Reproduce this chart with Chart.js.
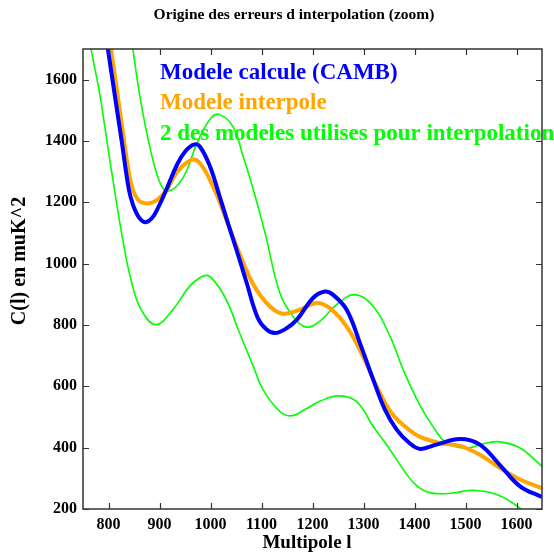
<!DOCTYPE html>
<html>
<head>
<meta charset="utf-8">
<script src="https://cdn.jsdelivr.net/npm/chart.js@4"></script>
<style>
html,body{margin:0;padding:0;background:#fff;}
#c{display:block;}
</style>
</head>
<body>
<canvas id="c" width="554" height="554"></canvas>
<script>
// ---- data ----
const chartTitle = "Origine des erreurs d interpolation (zoom)";
const xTitle = "Multipole l";
const yTitle = "C(l) en muK^2";

const xTickValues = [800, 900, 1000, 1100, 1200, 1300, 1400, 1500, 1600];
const yTickValues = [200, 400, 600, 800, 1000, 1200, 1400, 1600];

const cambLabel = "Modele calcule (CAMB)";
const cambL  = [790, 799, 812, 826, 840, 848, 857, 865, 873, 885, 898, 913, 935, 950, 967, 979, 999, 1018, 1034, 1051, 1071, 1093, 1110, 1126, 1145, 1169, 1201, 1224, 1240, 1267, 1293, 1319, 1342, 1365, 1390, 1411, 1443, 1489, 1528, 1567, 1607, 1650];
const cambCl = [1800, 1698, 1553, 1398, 1241, 1192, 1158, 1141, 1135, 1148, 1185, 1240, 1325, 1365, 1388, 1382, 1317, 1219, 1133, 1045, 937, 822, 785, 774, 785, 817, 888, 909, 899, 850, 741, 622, 524, 459, 415, 396, 410, 428, 410, 344, 274, 239];

const interpLabel = "Modele interpole";
const interpL  = [795, 805, 817, 829, 840, 848, 858, 868, 880, 893, 905, 916, 935, 962, 979, 1005, 1025, 1054, 1084, 1116, 1142, 1175, 1208, 1234, 1267, 1299, 1326, 1355, 1385, 1411, 1450, 1489, 1528, 1567, 1607, 1650];
const interpCl = [1810, 1698, 1560, 1420, 1296, 1240, 1208, 1198, 1197, 1205, 1222, 1245, 1300, 1338, 1328, 1252, 1170, 1045, 932, 861, 837, 850, 872, 855, 795, 698, 600, 513, 464, 435, 415, 406, 377, 334, 296, 268];

const modelsLabel = "2 des modeles utilises pour interpolation";
const modelAL  = [840, 848, 861, 880, 900, 916, 946, 975, 1001, 1018, 1044, 1064, 1084, 1107, 1136, 1162, 1188, 1214, 1247, 1283, 1319, 1352, 1378, 1411, 1437, 1463, 1502, 1541, 1567, 1607, 1650];
const modelACl = [1800, 1698, 1551, 1388, 1268, 1236, 1280, 1399, 1475, 1486, 1447, 1350, 1241, 1100, 904, 828, 793, 812, 866, 899, 861, 763, 654, 537, 467, 415, 399, 415, 419, 399, 339];

const modelBL  = [755, 766, 783, 798, 812, 828, 844, 864, 893, 926, 959, 988, 1005, 1031, 1057, 1084, 1103, 1136, 1159, 1186, 1214, 1250, 1286, 1319, 1343, 1365, 1385, 1404, 1420, 1443, 1475, 1515, 1561, 1607, 1650];
const modelBCl = [1800, 1698, 1551, 1388, 1238, 1078, 948, 850, 801, 850, 926, 961, 948, 882, 774, 665, 589, 518, 504, 525, 551, 569, 551, 469, 415, 361, 312, 276, 259, 250, 252, 261, 247, 203, 140];

const xMin = 750, xMax = 1650;
const yMin = 200, yMax = 1700;

// ---- helpers ----
const pts = (xs, ys) => xs.map((x, i) => ({x: x, y: ys[i]}));
const SERIF = "'Liberation Serif', 'Times New Roman', serif";
const tickFont = {family: SERIF, size: 16, weight: 'bold'};

const framePlugin = {
  id: 'frame',
  afterDatasetsDraw(chart) {
    const ctx = chart.ctx, a = chart.chartArea;
    const xs = chart.scales.x, ys = chart.scales.y;
    ctx.save();
    ctx.strokeStyle = '#333';
    ctx.lineWidth = 1.5;
    ctx.strokeRect(a.left, a.top, a.right - a.left, a.bottom - a.top);
    ctx.lineWidth = 1.2;
    const tl = 6;
    ctx.beginPath();
    xs.ticks.forEach(t => {
      const p = Math.round(xs.getPixelForValue(t.value)) + 0.5;
      ctx.moveTo(p, a.bottom); ctx.lineTo(p, a.bottom - tl);
      ctx.moveTo(p, a.top); ctx.lineTo(p, a.top + tl);
    });
    ys.ticks.forEach(t => {
      const p = Math.round(ys.getPixelForValue(t.value)) + 0.5;
      ctx.moveTo(a.left, p); ctx.lineTo(a.left + tl, p);
      ctx.moveTo(a.right, p); ctx.lineTo(a.right - tl, p);
    });
    ctx.stroke();
    ctx.restore();
  },
  afterDraw(chart) {
    const ctx = chart.ctx;
    ctx.save();
    ctx.fillStyle = '#000';
    ctx.textAlign = 'center';
    ctx.textBaseline = 'middle';
    // x axis title
    ctx.font = 'bold 19px ' + SERIF;
    ctx.fillText(xTitle, 307, 543);
    // chart title
    ctx.font = 'bold 15.5px ' + SERIF;
    ctx.fillText(chartTitle, 294, 15);
    // y axis title
    ctx.save();
    ctx.translate(20, 261);
    ctx.rotate(-Math.PI / 2);
    ctx.font = 'bold 20px ' + SERIF;
    ctx.fillText(yTitle, 0, 0);
    ctx.restore();
    // legend (text only, coloured)
    ctx.font = 'bold 23px ' + SERIF;
    ctx.textAlign = 'left';
    const seen = [];
    chart.data.datasets.forEach(ds => {
      if (seen.find(s => s.label === ds.label)) return;
      seen.push({label: ds.label, color: ds.borderColor});
    });
    seen.forEach((s, i) => {
      ctx.fillStyle = s.color;
      ctx.fillText(s.label, 160, 73 + i * 30.5);
    });
    ctx.restore();
  }
};

new Chart(document.getElementById('c'), {
  type: 'line',
  data: {
    datasets: [
      {label: cambLabel, data: pts(cambL, cambCl), borderColor: '#0000ff', borderWidth: 4, order: 0},
      {label: interpLabel, data: pts(interpL, interpCl), borderColor: '#ffa500', borderWidth: 4, order: 1},
      {label: modelsLabel, data: pts(modelAL, modelACl), borderColor: '#00ff00', borderWidth: 1.6, order: 2},
      {label: modelsLabel, data: pts(modelBL, modelBCl), borderColor: '#00ff00', borderWidth: 1.6, order: 3}
    ]
  },
  options: {
    responsive: false,
    animation: false,
    layout: {padding: {top: 49, right: 12, left: 0, bottom: 0}},
    elements: {
      point: {radius: 0},
      line: {tension: 0.4, fill: false}
    },
    plugins: {
      legend: {display: false},
      title: {display: false},
      tooltip: {enabled: false}
    },
    scales: {
      x: {
        type: 'linear',
        position: 'bottom',
        min: xMin, max: xMax,
        grid: {display: false, drawTicks: false},
        border: {display: false},
        ticks: {color: '#000', padding: 6, maxRotation: 0, autoSkip: false,
                callback: v => String(v), font: tickFont},
        title: {display: false},
        afterBuildTicks: s => { s.ticks = xTickValues.map(v => ({value: v})); },
        afterFit: s => { s.height = 45; }
      },
      y: {
        type: 'linear',
        min: yMin, max: yMax,
        grid: {display: false, drawTicks: false},
        border: {display: false},
        ticks: {color: '#000', padding: 6, autoSkip: false,
                callback: v => String(v), font: tickFont},
        title: {display: false},
        afterBuildTicks: s => { s.ticks = yTickValues.map(v => ({value: v})); },
        afterFit: s => { s.width = 83; }
      }
    }
  },
  plugins: [framePlugin]
});
</script>
</body>
</html>
